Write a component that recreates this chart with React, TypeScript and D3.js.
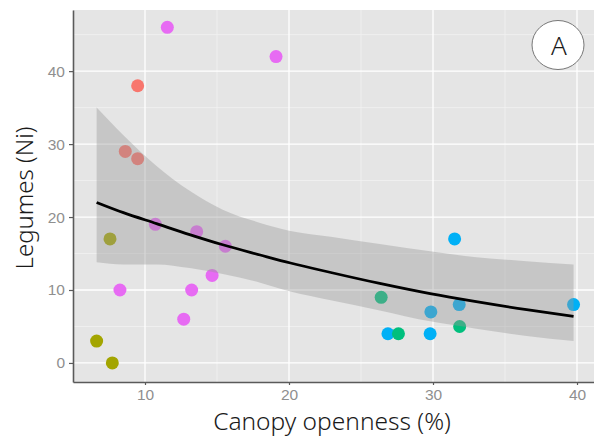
import React, { useEffect, useRef } from 'react';
import * as d3 from 'd3';

// canopy openness (%) and legume counts
const canopy = [11.55, 19.1, 9.49, 8.63, 9.49, 10.72, 7.57, 13.59, 15.58, 14.66, 8.26, 13.24, 12.69, 6.64, 7.73,
  31.5, 26.4, 29.85, 31.82, 39.76, 26.87, 27.6, 29.8, 31.85];
const legumes = [46, 42, 38, 29, 28, 19, 17, 18, 16, 12, 10, 10, 6, 3, 0,
  17, 9, 7, 8, 8, 4, 4, 4, 5];
const site = [4, 4, 0, 0, 0, 4, 1, 4, 4, 4, 4, 4, 4, 1, 1,
  3, 2, 3, 3, 3, 3, 2, 3, 2];
const siteColors = ['#F8766D', '#A3A500', '#00BF7D', '#00B0F6', '#E76BF3'];

// fitted curve and confidence band
const fitX = [6.64, 8.5, 10.8, 13.1, 15.4, 18, 20.1, 22.9, 26.3, 29.8, 33, 36.5, 39.76];
const fitY = [22.0, 20.6, 19.1, 17.6, 16.2, 14.8, 13.7, 12.4, 10.9, 9.5, 8.4, 7.3, 6.4];
const fitHi = [35.0, 31.2, 27.0, 23.6, 21.0, 19.2, 18.1, 17.3, 16.3, 15.3, 14.5, 13.95, 13.5];
const fitLo = [13.8, 13.5, 13.5, 13.0, 12.2, 11.0, 9.8, 8.6, 7.2, 5.7, 4.7, 3.7, 3.0];

const xTicks = [10, 20, 30, 40];
const yTicks = [0, 10, 20, 30, 40];
const xMinor = [15, 25, 35];
const yMinor = [5, 15, 25, 35, 45];

const W = 594, H = 437;
const titleFont = '"Noto Sans", "Open Sans", sans-serif';

const App = () => {
  const svgRef = useRef(null);

  useEffect(() => {
    const margin = { top: 10, right: 0, bottom: 55, left: 73 };
    const svg = d3.select(svgRef.current);
    svg.selectAll('*').remove();

    const x = d3.scaleLinear().domain([5.0, 41.18]).range([margin.left, W - margin.right]);
    const y = d3.scaleLinear().domain([-2.61, 48.38]).range([H - margin.bottom, margin.top]);

    svg.append('rect')
      .attr('x', margin.left).attr('y', margin.top)
      .attr('width', W - margin.left - margin.right)
      .attr('height', H - margin.top - margin.bottom)
      .attr('fill', '#E5E5E5');

    // grid
    svg.selectAll('.minx').data(xMinor).enter().append('line')
      .attr('x1', d => x(d)).attr('x2', d => x(d))
      .attr('y1', margin.top).attr('y2', H - margin.bottom)
      .attr('stroke', '#F2F2F2').attr('stroke-width', 0.8);
    svg.selectAll('.miny').data(yMinor).enter().append('line')
      .attr('y1', d => y(d)).attr('y2', d => y(d))
      .attr('x1', margin.left).attr('x2', W - margin.right)
      .attr('stroke', '#F2F2F2').attr('stroke-width', 0.8);
    svg.selectAll('.majx').data(xTicks).enter().append('line')
      .attr('x1', d => x(d)).attr('x2', d => x(d))
      .attr('y1', margin.top).attr('y2', H - margin.bottom)
      .attr('stroke', '#fff').attr('stroke-width', 1.3);
    svg.selectAll('.majy').data(yTicks).enter().append('line')
      .attr('y1', d => y(d)).attr('y2', d => y(d))
      .attr('x1', margin.left).attr('x2', W - margin.right)
      .attr('stroke', '#fff').attr('stroke-width', 1.3);

    // points
    svg.selectAll('.pt').data(canopy).enter().append('circle')
      .attr('cx', d => x(d))
      .attr('cy', (d, i) => y(legumes[i]))
      .attr('r', 6.5)
      .attr('fill', (d, i) => siteColors[site[i]]);

    // smooth
    const idx = d3.range(fitX.length);
    const band = d3.area()
      .x(i => x(fitX[i]))
      .y0(i => y(fitLo[i]))
      .y1(i => y(fitHi[i]))
      .curve(d3.curveMonotoneX);
    svg.append('path').attr('d', band(idx))
      .attr('fill', '#999999').attr('fill-opacity', 0.4);

    const line = d3.line()
      .x(i => x(fitX[i]))
      .y(i => y(fitY[i]))
      .curve(d3.curveMonotoneX);
    svg.append('path').attr('d', line(idx))
      .attr('fill', 'none').attr('stroke', '#000').attr('stroke-width', 2.8);

    // axes
    const xAxis = svg.append('g')
      .attr('transform', `translate(0,${H - margin.bottom})`)
      .call(d3.axisBottom(x).tickValues(xTicks).tickSize(3).tickSizeOuter(0).tickPadding(4));
    const yAxis = svg.append('g')
      .attr('transform', `translate(${margin.left},0)`)
      .call(d3.axisLeft(y).tickValues(yTicks).tickSize(4).tickSizeOuter(0).tickPadding(4));
    [xAxis, yAxis].forEach(g => {
      g.select('.domain').attr('stroke', '#5a5a5a').attr('stroke-width', 1.6);
      g.selectAll('.tick line').attr('stroke', '#5a5a5a').attr('stroke-width', 1.2);
      g.selectAll('.tick text')
        .attr('fill', '#8f8f8f')
        .style('font-family', '"Liberation Sans", Arial, sans-serif')
        .style('font-size', '15.5px');
    });

    // titles
    svg.append('text')
      .attr('x', 332).attr('y', 429.8)
      .attr('text-anchor', 'middle')
      .style('font-family', titleFont)
      .style('font-weight', 300)
      .style('font-size', '24.5px')
      .attr('fill', '#1a1a1a')
      .text('Canopy openness (%)');

    svg.append('text')
      .attr('transform', `translate(33,${(margin.top + H - margin.bottom) / 2 + 2}) rotate(-90)`)
      .attr('text-anchor', 'middle')
      .style('font-family', titleFont)
      .style('font-weight', 300)
      .style('font-size', '24px')
      .attr('fill', '#1a1a1a')
      .text('Legumes (Ni)');

    // panel tag
    svg.append('ellipse')
      .attr('cx', 558).attr('cy', 45).attr('rx', 26).attr('ry', 24.5)
      .attr('fill', '#fff').attr('stroke', '#777').attr('stroke-width', 1);
    svg.append('text')
      .attr('x', 559).attr('y', 55)
      .attr('text-anchor', 'middle')
      .style('font-family', titleFont)
      .style('font-weight', 300)
      .style('font-size', '26px')
      .attr('fill', '#1a1a1a')
      .text('A');
  }, []);

  return (
    <svg ref={svgRef} width={W} height={H} style={{ display: 'block', position: 'absolute', left: 0, top: 0 }}></svg>
  );
};

export default App;
